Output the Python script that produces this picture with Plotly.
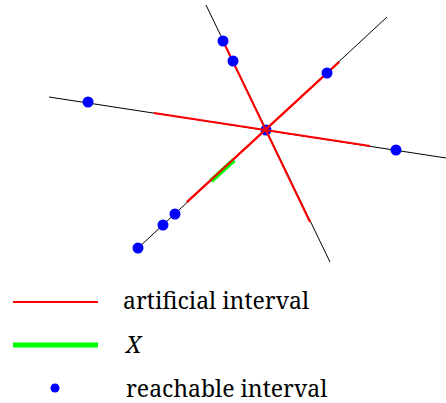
import plotly.graph_objects as go

# Coordinates relative to the common centre point (x right, y up)
# Three base lines (black), endpoints
line_x = [[-217, 180], [-60, 64], [-128, 121]]
line_y = [[33, -28], [125, -132], [-118, 113]]

# Artificial intervals (red)
red_x = [[-112, 104], [-43, 44], [-79, 73]]
red_y = [[17, -16], [89, -92], [-72, 68]]

# X (green)
green_x = [-55, -32]
green_y = [-51, -30]

# Reachable intervals (blue points)
center_x = [0]
center_y = [0]
blue_x = [-178, 130, -43, -33, -128, -103, -91, 61]
blue_y = [28, -20, 89, 69, -118, -95, -84, 57]

legend_labels = ["artificial interval", "<i>X</i>", "reachable interval"]

FONT = "Noto Serif"

fig = go.Figure()

for xs, ys in zip(line_x, line_y):
    fig.add_trace(go.Scatter(x=xs, y=ys, mode="lines",
                             line=dict(color="black", width=1), showlegend=False))

fig.add_trace(go.Scatter(x=center_x, y=center_y, mode="markers",
                         marker=dict(color="blue", size=11), showlegend=False))

for xs, ys in zip(red_x, red_y):
    fig.add_trace(go.Scatter(x=xs, y=ys, mode="lines",
                             line=dict(color="red", width=2), showlegend=False))

fig.add_trace(go.Scatter(x=green_x, y=green_y, mode="lines",
                         line=dict(color="#00ff00", width=5), showlegend=False))
fig.add_trace(go.Scatter(x=red_x[2], y=red_y[2], mode="lines",
                         line=dict(color="red", width=2), showlegend=False))

fig.add_trace(go.Scatter(x=blue_x, y=blue_y, mode="markers",
                         marker=dict(color="blue", size=11), showlegend=False))

W, H = 446, 403
fig.update_layout(
    width=W, height=H,
    margin=dict(l=0, r=0, t=0, b=0),
    paper_bgcolor="white", plot_bgcolor="white",
    font=dict(family=FONT),
    xaxis=dict(range=[-266, 180], visible=False, fixedrange=True),
    yaxis=dict(range=[-273, 130], visible=False, fixedrange=True),
)

# Manual legend (paper coordinates, y measured from top)
def py(y):
    return 1 - y / H

def px(x):
    return x / W

fig.add_shape(type="line", xref="paper", yref="paper",
              x0=px(13), x1=px(98), y0=py(302), y1=py(302),
              line=dict(color="red", width=2))
fig.add_shape(type="line", xref="paper", yref="paper",
              x0=px(13), x1=px(98), y0=py(345), y1=py(345),
              line=dict(color="#00ff00", width=5))
fig.add_shape(type="circle", xref="paper", yref="paper",
              x0=px(50.5), x1=px(59.5), y0=py(383.5), y1=py(392.5),
              fillcolor="blue", line=dict(width=0))

for label, yy, xx in zip(legend_labels, [300, 344, 388], [121, 122, 124]):
    fig.add_annotation(text=label, xref="paper", yref="paper",
                       x=px(xx), y=py(yy), xanchor="left", yanchor="middle",
                       showarrow=False,
                       font=dict(family=FONT, size=23, color="black"))

fig.write_html("out.html")
